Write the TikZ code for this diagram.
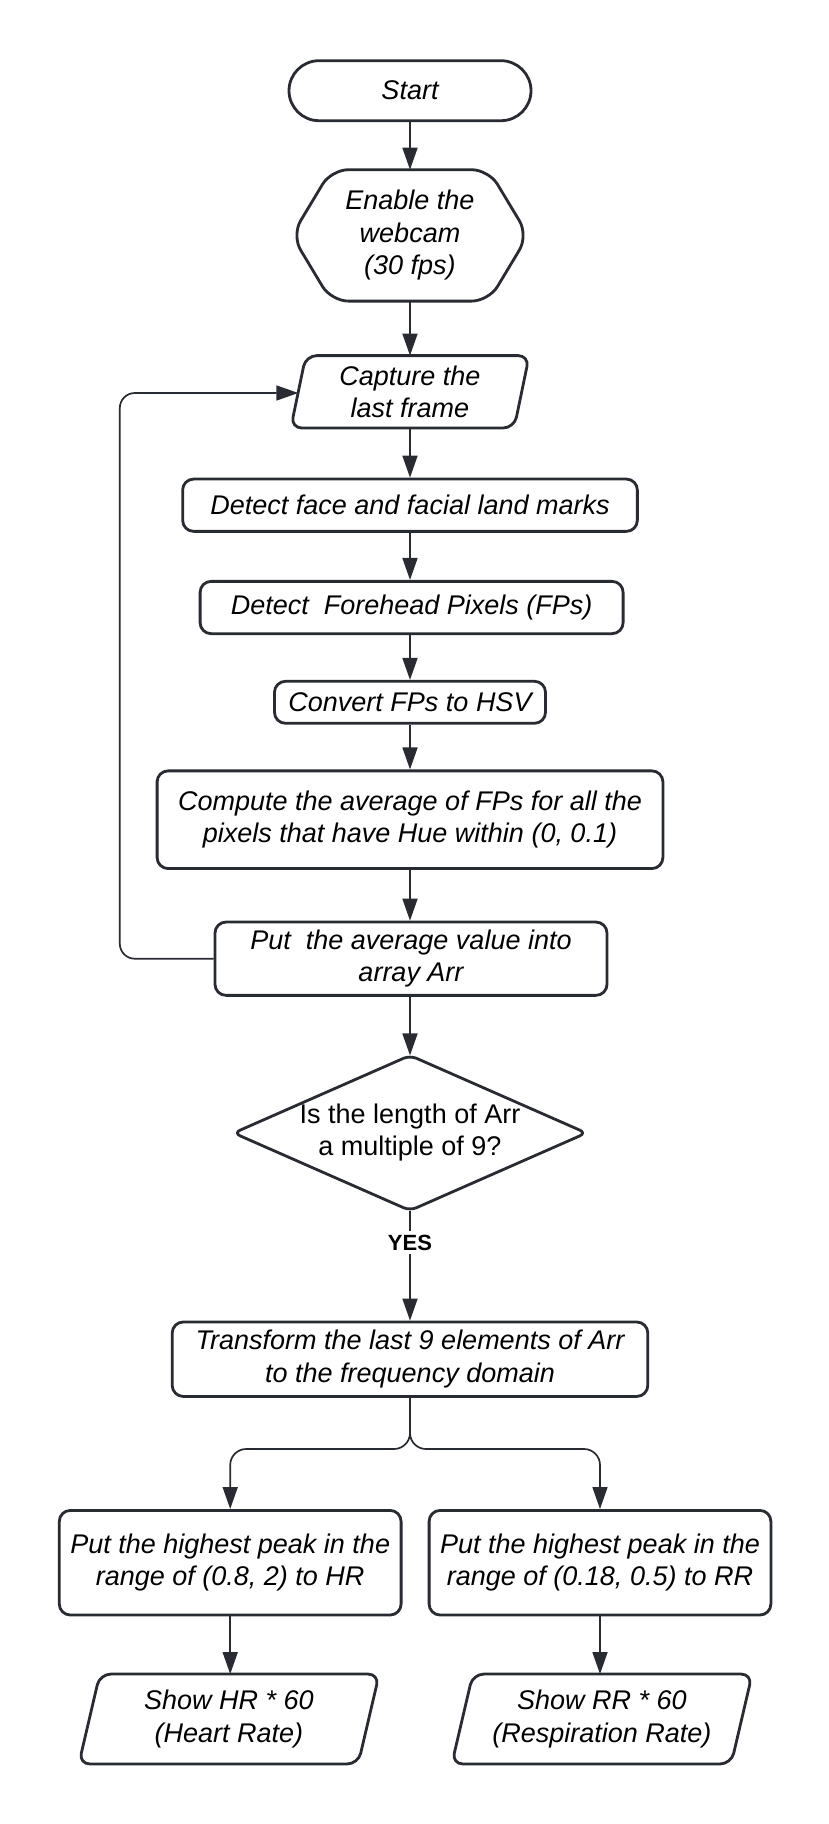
\documentclass[tikz,border=0pt]{standalone}
\usepackage{fontspec}
\setmainfont{Liberation Sans}
\usetikzlibrary{calc,arrows.meta}
\definecolor{ln}{RGB}{40,43,50}
\tikzset{
  plain/.style={align=center, inner sep=0pt},
  box/.style={plain, draw=ln, line width=2.8pt, rounded corners=11pt},
  outline/.style={draw=ln, line width=2.8pt, rounded corners=11pt},
  conn/.style={draw=ln, line width=1.7pt, -{Triangle[length=22pt,width=15pt]}},
}
\begin{document}
\begin{tikzpicture}[x=1pt, y=-1pt, line join=round,
  font=\itshape\fontsize{27}{32.5}\selectfont]
\useasboundingbox (0,0) rectangle (829,1824);
\fill[white] (0,0) rectangle (829,1824);

% nodes
\node[box, minimum width=242, minimum height=60, rounded corners=30pt] (start) at (410,90.7) {Start};

\node[plain, minimum width=236, minimum height=131] (hex) at (410,235.4) {Enable the\\webcam\\(30 fps)};
\draw[outline, rounded corners=17pt] ($(hex.north west)+(39.5,0)$) -- ($(hex.north east)+(-39.5,0)$) -- (hex.east)
  -- ($(hex.south east)+(-39.5,0)$) -- ($(hex.south west)+(39.5,0)$) -- (hex.west) -- cycle;

\node[plain, minimum width=238, minimum height=72] (cap) at (410,391.8) {Capture the\\last frame};
\draw[outline] ($(cap.north west)+(15,0)$) -- (cap.north east) -- ($(cap.south east)+(-15,0)$) -- (cap.south west) -- cycle;

\node[box, minimum width=454.7, minimum height=52.3] (face) at (410,505.2) {Detect face and facial land marks};
\node[box, minimum width=423, minimum height=52.3] (fh) at (411.6,607.5) {Detect~ Forehead Pixels (FPs)};
\node[box, minimum width=271, minimum height=42] (cv) at (410,702.3) {Convert FPs to HSV};
\node[box, minimum width=505.8, minimum height=97.7] (cmp) at (410,819.7) {Compute the average of FPs for all the\\pixels that have Hue within (0, 0.1)};
\node[box, minimum width=392, minimum height=73.3] (put) at (411,958.7) {Put~ the average value into\\array Arr};

\node[plain, minimum width=352.3, minimum height=154.7, font=\upshape\fontsize{27}{32.5}\selectfont] (dec) at (410,1133) {\raisebox{4pt}{\begin{tabular}{@{}c@{}}Is the length of Arr\\ a multiple of 9?\end{tabular}}};
\draw[outline, rounded corners=7pt] (dec.north) -- (dec.east) -- (dec.south) -- (dec.west) -- cycle;

\node[box, minimum width=475.6, minimum height=74.4] (tr) at (410,1359.2) {Transform the last 9 elements of Arr\\to the frequency domain};

\node[box, minimum width=341.8, minimum height=104.6] (hr) at (230.2,1562.7) {Put the highest peak in the\\range of (0.8, 2) to HR};
\node[box, minimum width=341.8, minimum height=104.6] (rr) at (600,1562.7) {Put the highest peak in the\\range of (0.18, 0.5) to RR};

\node[plain, minimum width=300, minimum height=89.5] (shr) at (229,1719) {Show HR * 60\\(Heart Rate)};
\draw[outline] ($(shr.north west)+(21,0)$) -- (shr.north east) -- ($(shr.south east)+(-21,0)$) -- (shr.south west) -- cycle;
\node[plain, minimum width=300, minimum height=89.5] (srr) at (602,1719) {Show RR * 60\\(Respiration Rate)};
\draw[outline] ($(srr.north west)+(21,0)$) -- (srr.north east) -- ($(srr.south east)+(-21,0)$) -- (srr.south west) -- cycle;

% connectors
\draw[conn] (start.south) -- (hex.north);
\draw[conn] (hex.south) -- (cap.north);
\draw[conn] (cap.south) -- (face.north);
\draw[conn] (face.south) -- (face.south |- fh.north);
\draw[conn] (face.south |- fh.south) -- (cv.north);
\draw[conn] (cv.south) -- (cmp.north);
\draw[conn] (cmp.south) -- (cmp.south |- put.north);
\draw[conn] (cmp.south |- put.south) -- (dec.north);
\draw[conn] (dec.south) -- node[pos=0.29, fill=white, inner sep=4pt, font=\upshape\bfseries\fontsize{22}{26}\selectfont] (yes) {YES} (tr.north);

\coordinate (capin) at ($(cap.west)+(7.5,1.2)$);
\coordinate (lp) at (119.8,393);
\draw[conn, rounded corners=15pt] (put.west) -| (lp) -- (capin);

\draw[conn, rounded corners=16pt] (tr.south) |- ($(hr.north)+(0,-60)$) -- (hr.north);
\draw[conn, rounded corners=16pt] (tr.south) |- ($(rr.north)+(0,-60)$) -- (rr.north);

\draw[conn] (hr.south) -- (hr.south |- shr.north);
\draw[conn] (rr.south) -- (rr.south |- srr.north);
\end{tikzpicture}
\end{document}
